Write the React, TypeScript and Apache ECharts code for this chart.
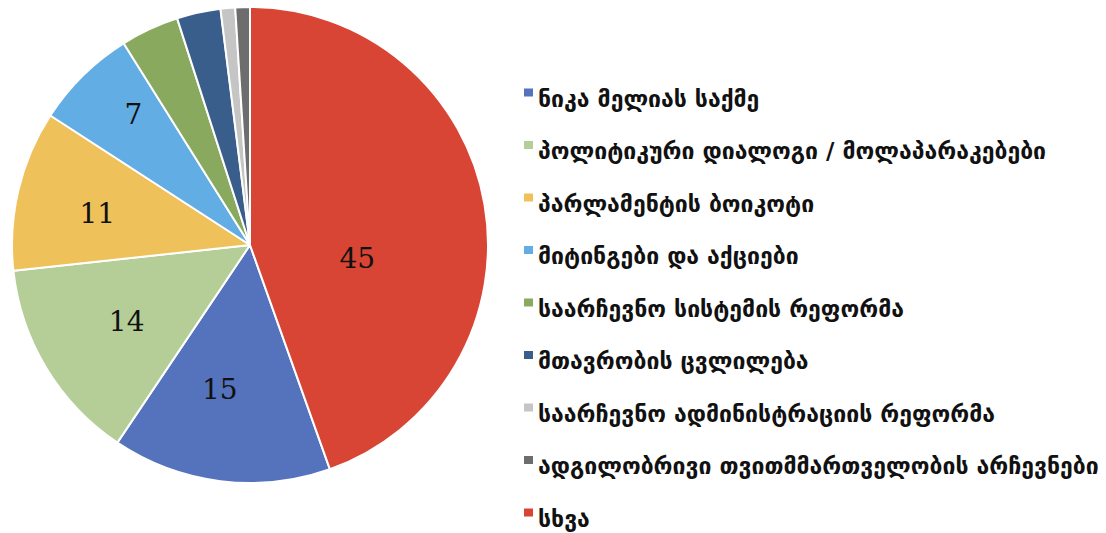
import React, { useEffect, useRef } from "react";
import * as echarts from "echarts";

const categories = [
  "ნიკა მელიას საქმე",
  "პოლიტიკური დიალოგი / მოლაპარაკებები",
  "პარლამენტის ბოიკოტი",
  "მიტინგები და აქციები",
  "საარჩევნო სისტემის რეფორმა",
  "მთავრობის ცვლილება",
  "საარჩევნო ადმინისტრაციის რეფორმა",
  "ადგილობრივი თვითმმართველობის არჩევნები",
  "სხვა",
];
const values = [15, 14, 11, 7, 4, 3, 1, 1, 45];
const colors = [
  "#5572BC",
  "#B5CE98",
  "#EFC15B",
  "#62ADE4",
  "#89AA5E",
  "#3A5E8C",
  "#C5C5C5",
  "#6D6D6D",
  "#D84534",
];
const showLabel = [true, true, true, true, false, false, false, false, true];
// label nudges (layout only)
const labelNudge: Record<number, [number, number]> = {
  0: [-15, 23],
  1: [-19, 13],
  2: [-34, -3],
  3: [-31, -44],
  8: [-13, 34],
};

export default function App() {
  const ref = useRef<HTMLDivElement>(null);
  useEffect(() => {
    document.body.style.margin = "0";
    const chart = echarts.init(ref.current!, null, { renderer: "svg" });
    const total = values.reduce((a, b) => a + b, 0);
    const last = values[values.length - 1];
    const startAngle = 90 - (360 * last) / total;
    chart.setOption({
      animation: false,
      backgroundColor: "#ffffff",
      legend: {
        orient: "vertical",
        left: 524,
        top: 87,
        padding: 0,
        itemWidth: 9,
        itemHeight: 20,
        itemGap: 29.5,
        icon: "path://M0,0h9v8h-9Z M0,19.9h0.1v0.1h-0.1Z",
        itemStyle: { borderWidth: 0 },
        data: categories,
        textStyle: {
          fontFamily: "DejaVu Sans",
          fontSize: 23,
          fontWeight: "bold",
          color: "#111111",
        },
      },
      series: [
        {
          type: "pie",
          center: [250, 245],
          radius: [0, 238],
          startAngle,
          clockwise: true,
          itemStyle: { borderColor: "#ffffff", borderWidth: 2 },
          label: {
            position: "inside",
            fontFamily: "DejaVu Serif",
            fontSize: 28,
            color: "#111111",
            formatter: "{c}",
          },
          labelLine: { show: false },
          emphasis: { disabled: true },
          labelLayout: (p: any) => {
            const n = labelNudge[p.dataIndex];
            return n ? { dx: n[0], dy: n[1] } : {};
          },
          data: categories.map((name, i) => ({
            name,
            value: values[i],
            itemStyle: { color: colors[i] },
            label: { show: showLabel[i] },
          })),
        },
      ],
    });
    return () => chart.dispose();
  }, []);
  return <div ref={ref} style={{ width: 1106, height: 533 }} />;
}
